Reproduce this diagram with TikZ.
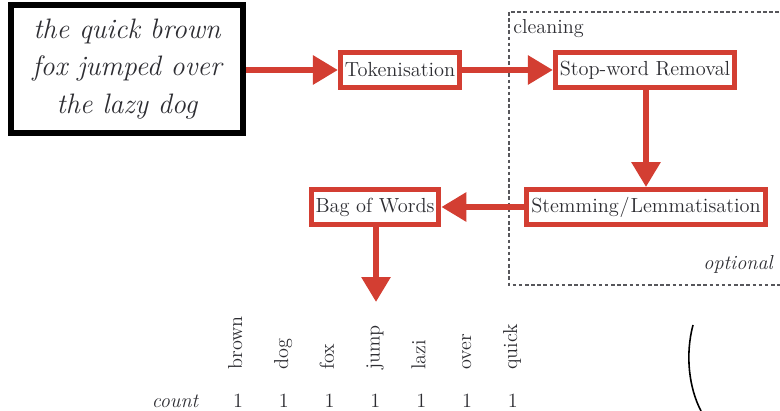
\documentclass[tikz,border=0pt]{standalone}
\usetikzlibrary{arrows.meta}
\definecolor{flowred}{RGB}{211,62,50}
\definecolor{inkgrey}{RGB}{45,45,50}
\newcommand{\countrow}{\foreach \w [count=\i] in {brown,dog,fox,jump,lazi,over,quick}{
        \node[word] (w\i) at ({238+45.8*(\i-1)},370) {\w};
        \node[tally] (t\i) at ({238+45.8*(\i-1)},407) {1};}
        \node[tally, font=\fontsize{11.5}{13}\selectfont\itshape] (cnt) at (175,407) {count};
    }

\begin{document}
\begin{tikzpicture}
                [x=0.02cm, y=-0.02cm,
                stage/.style={rectangle,draw=flowred,line width=2.8pt,inner xsep=2.5pt,inner ysep=0pt,minimum height=0.7cm,text=inkgrey,font=\fontsize{11.6}{13}\selectfont},
                flow/.style={-{Triangle[length=0.5cm,width=0.56cm]},draw=flowred,line width=3.4pt},
                word/.style={rotate=90,anchor=west,inner sep=0pt,text height=0.7em,text depth=0.22em,text=inkgrey,font=\fontsize{11.5}{13}\selectfont},
                tally/.style={anchor=base,inner sep=0pt,text=inkgrey,font=\fontsize{11.5}{13}\selectfont},
                ]
                \useasboundingbox (0,0) rectangle (780,411);
                \draw[inkgrey!80, line width=0.6pt, dash pattern=on 2pt off 1.5pt] (509,12) rectangle (783,285);
                \node[anchor=base west,inner sep=0pt,text=inkgrey,font=\fontsize{11.5}{13}\selectfont] (clean) at (513,34) {cleaning};
                \node[anchor=base east,inner sep=0pt,text=inkgrey,font=\fontsize{11.5}{13}\selectfont\itshape] (opt) at (773,270) {optional};
                \node[rectangle,draw=black,line width=3.2pt,minimum width=4.65cm,minimum height=2.55cm,align=center,text=inkgrey,font=\fontsize{16}{21.5}\selectfont\itshape] (input) at (127,69) {the quick brown\\fox jumped over\\the lazy dog};
                \node[stage] (tok) at (400,70) {Tokenisation};
                \node[stage] (stop) at (645,70) {Stop-word Removal};
                \node[stage] (stem) at (646,207) {Stemming\kern0.5pt/\kern0.5pt Lemmatisation};
                \node[stage] (bow) at (375,207) {Bag of Words};
                \coordinate (bowend) at (376,302);
                \draw[flow] (input.east |- tok) -- (tok);
                \draw[flow] (tok) -- (stop);
                \draw[flow] (stop.south -| stem) -- (stem);
                \draw[flow] (stem) -- (bow);
                \draw[flow] (bow.south -| bowend) -- (bowend);
                \countrow
                \draw[line width=0.9pt] (693,325) .. controls (685,355) and (689,388) .. (701,411);
            \end{tikzpicture}
\end{document}
